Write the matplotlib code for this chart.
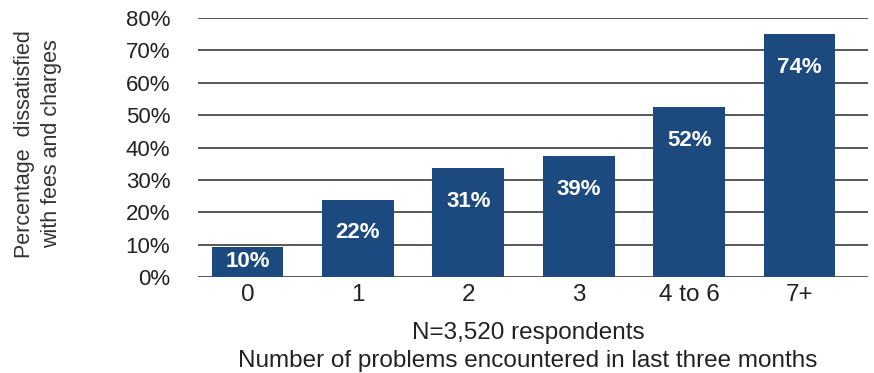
import matplotlib
matplotlib.use("Agg")
import matplotlib.pyplot as plt

categories = ["0", "1", "2", "3", "4 to 6", "7+"]
bar_heights = [9.3, 23.8, 33.6, 37.3, 52.5, 75.0]
bar_labels = ["10%", "22%", "31%", "39%", "52%", "74%"]
yticks = [0, 10, 20, 30, 40, 50, 60, 70, 80]

bar_color = "#1c4a7e"
grid_color = "#4a4a4a"

plt.rcParams["font.family"] = ["Liberation Sans", "DejaVu Sans"]

fig = plt.figure(figsize=(8.74, 3.73), dpi=100)
ax = fig.add_axes([0.2265, 0.2574, 0.7665, 0.6943])

x = list(range(len(categories)))
for yv in yticks:
    ax.axhline(yv, color=grid_color, lw=1.3, zorder=1)
ax.bar(x, bar_heights, width=0.65, color=bar_color, zorder=2)

for xi, h, lab in zip(x, bar_heights, bar_labels):
    ypos = max(h - 10.2, h / 2)
    ax.text(xi, ypos, lab, ha="center", va="center", color="white",
            fontsize=16, fontweight="bold", zorder=3)

ax.set_xlim(-0.45, 5.62)
ax.set_ylim(0, 80)
ax.set_yticks(yticks)
ax.set_yticklabels([f"{v}%" for v in yticks], fontsize=16, color="#222222")
ax.set_xticks(x)
ax.set_xticklabels(categories, fontsize=17.5, color="#222222")
ax.tick_params(axis="y", length=0, pad=20)
ax.tick_params(axis="x", length=0, pad=5)
for s in ax.spines.values():
    s.set_visible(False)

fig.text(0.604, 1 - 333 / 373, "N=3,520 respondents", ha="center", va="center",
         fontsize=17.5, color="#222222")
fig.text(0.604, 1 - 361 / 373, "Number of problems encountered in last three months",
         ha="center", va="center", fontsize=17.5, color="#222222")

fig.text(38 / 874, 1 - 144 / 373, "Percentage  dissatisfied\nwith fees and charges",
         rotation=90, ha="center", va="center", fontsize=15.5, color="#333333",
         linespacing=1.4)

fig.savefig("out.png", dpi=100)
